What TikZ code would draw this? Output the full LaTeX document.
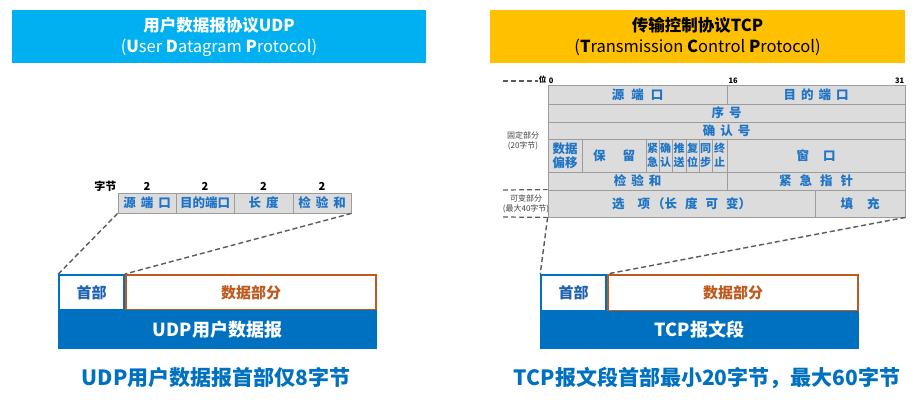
\documentclass[tikz,border=0pt]{standalone}
\usepackage{fontspec}
\setmainfont{Noto Sans CJK SC}
\usepackage{tikz}
\usetikzlibrary{positioning}
\definecolor{udpcyan}{HTML}{00B0F0}
\definecolor{tcpgold}{HTML}{FFC000}
\definecolor{barblue}{HTML}{0070C0}
\definecolor{headblue}{HTML}{1F63B0}
\definecolor{databrown}{HTML}{BE5A1E}
\definecolor{fieldfill}{HTML}{DCDCDC}
\definecolor{fieldgray}{HTML}{9C9C9C}
\definecolor{fieldblue}{HTML}{1E74C6}
\definecolor{cutgray}{HTML}{5A5A5A}
\tikzstyle{titlestyle}=[inner sep=0pt, align=center, font=\fontsize{16.5}{21}\selectfont]
\tikzstyle{fieldstyle}=[draw=fieldgray, fill=fieldfill, line width=0.8pt, inner sep=0pt, anchor=center, align=center, text=fieldblue, font=\bfseries\fontsize{12.5}{14}\selectfont]
\tikzstyle{flagstyle}=[fieldstyle, font=\bfseries\fontsize{11}{14}\selectfont]
\tikzstyle{headstyle}=[draw=barblue, line width=1.6pt, fill=white, text=headblue, font=\bfseries\fontsize{15}{18}\selectfont]
\tikzstyle{datastyle}=[draw=databrown, line width=2pt, fill=white, text=databrown, font=\bfseries\fontsize{15}{18}\selectfont]
\tikzstyle{barstyle}=[fill=barblue, text=white, font=\bfseries\fontsize{18}{22}\selectfont]
\tikzstyle{notestyle}=[text=barblue, font=\bfseries\fontsize{21}{25}\selectfont]
\tikzstyle{smallstyle}=[inner sep=0pt, align=center, text=black!75, font=\fontsize{8}{9.5}\selectfont]
\tikzstyle{bitstyle}=[inner sep=1pt, font=\bfseries\fontsize{7.5}{9}\selectfont]
\tikzstyle{cutstyle}=[draw=cutgray, line width=1.4pt, dash pattern=on 5pt off 3pt]
% box by its two corners (pixel units)
\newcommand{\fld}[7]{\node [#7, inner sep=0pt, minimum width={(#4-#2)*1pt}, minimum height={(#5-#3)*1pt}, align=center] (#1) at ({(#2+#4)/2},{(#3+#5)/2}) {#6};}
% gap between spaced-out characters
\newcommand{\fsp}[1][5pt]{\hspace{#1}}

\begin{document}
\begin{tikzpicture}[x=1pt, y=-1pt]
\useasboundingbox (0,0) rectangle (915,403);

% titles
\fld{udptitle}{12}{10}{426}{63}{\textbf{用户数据报协议UDP}\\(\textbf{U}ser \textbf{D}atagram \textbf{P}rotocol)}{titlestyle, fill=udpcyan, text=white}
\fld{tcptitle}{490}{10}{905}{63}{\textbf{传输控制协议TCP}\\(\textbf{T}ransmission \textbf{C}ontrol \textbf{P}rotocol)}{titlestyle, fill=tcpgold, text=black}

% UDP header
\fld{usrc}{118}{193}{176}{213}{源\fsp 端\fsp 口}{fieldstyle}
\fld{udst}{176}{193}{234}{213}{目的端口}{fieldstyle}
\fld{ulen}{234}{193}{293}{213}{长\fsp 度}{fieldstyle}
\fld{usum}{293}{193}{351}{213}{检\fsp 验\fsp 和}{fieldstyle}
\foreach \f in {usrc, udst, ulen, usum}
  \node [above=2pt of \f, inner sep=0pt, font=\bfseries\fontsize{11}{13}\selectfont] (\f len) {2};
\node [left=27pt of usrclen, inner sep=0pt, font=\bfseries\fontsize{11}{13}\selectfont] (ubytes) {字节};

% UDP datagram
\fld{uhead}{59}{275}{124}{310}{首部}{headstyle}
\fld{udata}{126}{275}{376}{310}{数据部分}{datastyle}
\fld{ubar}{58}{310}{377}{349}{UDP用户数据报}{barstyle}
\node [notestyle] (unote) at (216,378) {UDP用户数据报首部仅8字节};

\draw [cutstyle] (usrc.south west) -- (uhead.north west);
\draw [cutstyle] (usum.south east) -- (udata.north west);

% TCP header
\fld{tsrc}{548}{85}{727}{104}{源\fsp[7pt]端\fsp[7pt]口}{fieldstyle}
\fld{tdst}{727}{85}{905}{104}{目\fsp 的\fsp 端\fsp 口}{fieldstyle}
\fld{tseq}{548}{104}{905}{122}{序\fsp 号}{fieldstyle}
\fld{tack}{548}{122}{905}{139}{确\fsp 认\fsp 号}{fieldstyle}
\fld{toff}{548}{139}{582}{172}{数据\\偏移}{fieldstyle}
\fld{tres}{582}{139}{646}{172}{保\fsp[17pt]留}{fieldstyle}
\fld{turg}{646}{139}{659}{172}{紧\\急}{flagstyle}
\fld{tackf}{659}{139}{672}{172}{确\\认}{flagstyle}
\fld{tpsh}{672}{139}{686}{172}{推\\送}{flagstyle}
\fld{trst}{686}{139}{699}{172}{复\\位}{flagstyle}
\fld{tsyn}{699}{139}{712}{172}{同\\步}{flagstyle}
\fld{tfin}{712}{139}{727}{172}{终\\止}{flagstyle}
\fld{twin}{727}{139}{905}{172}{窗\fsp[14pt]口}{fieldstyle}
\fld{tsum}{548}{172}{727}{190}{检\fsp 验\fsp 和}{fieldstyle}
\fld{tptr}{727}{172}{905}{190}{紧\fsp[8pt]急\fsp[8pt]指\fsp[8pt]针}{fieldstyle}
\fld{topt}{548}{190}{815}{217}{选\fsp[13pt]项\fsp[2pt]（长\fsp[8pt]度\fsp[8pt]可\fsp[8pt]变）}{fieldstyle}
\fld{tpad}{815}{190}{905}{217}{填\fsp[14pt]充}{fieldstyle}

% bit positions
\node [bitstyle, anchor=south west] (bit0) at (tsrc.north west) {0};
\node [bitstyle, anchor=south west] (bit16) at (tsrc.north east) {16};
\node [bitstyle, anchor=south east] (bit31) at (tdst.north east) {31};
\node [bitstyle, anchor=south east] (bitpos) at (tsrc.north west) {位};

% fixed / variable part
\node [smallstyle] (tfixed) at (523,141) {固定部分\\(20字节)};
\node [smallstyle] (tvar) at (526,204) {可变部分\\(最大40字节)};
\coordinate (cutbit) at (503,81);
\coordinate (cutfix) at (503,190);
\coordinate (cutvar) at (503,217);
\draw [cutstyle, line width=1.2pt] (cutbit) -- (bitpos.south west |- cutbit);
\draw [cutstyle, line width=1.2pt] (cutfix) -- (topt.north west);
\draw [cutstyle, line width=1.2pt] (cutvar) -- (topt.south west);

% TCP segment
\fld{thead}{541}{275}{606}{311}{首部}{headstyle}
\fld{tdata}{608}{275}{858}{311}{数据部分}{datastyle}
\fld{tbar}{540}{311}{859}{349}{TCP报文段}{barstyle}
\node [notestyle] (tnote) at (707,378) {TCP报文段首部最小20字节，最大60字节};

\draw [cutstyle] (topt.south west) -- (thead.north west);
\draw [cutstyle] (tpad.south east) -- (tdata.north west);
\end{tikzpicture}
\end{document}
